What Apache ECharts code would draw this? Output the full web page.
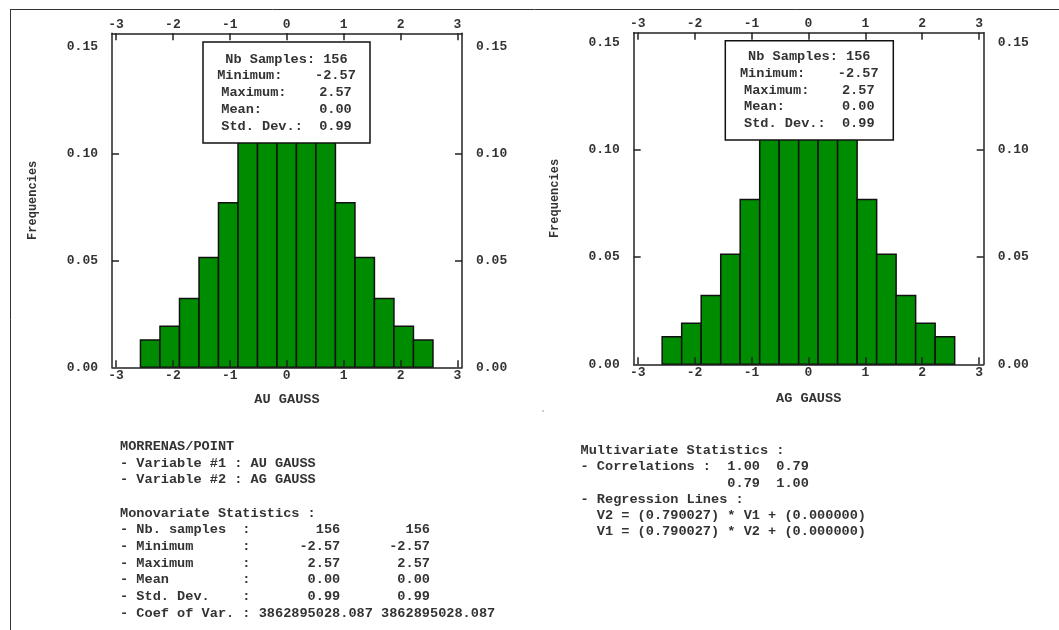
<!DOCTYPE html>
<html>
<head>
<meta charset="utf-8">
<script src="https://cdn.jsdelivr.net/npm/echarts@6/dist/echarts.min.js"></script>
<style>
	html,body{margin:0;padding:0;background:#fff;}
	#main{width:1059px;height:630px;}
</style>
</head>
<body>
<div id="main"></div>
<script>
	//直方图分组边界
	var binEdges = [-2.57, -2.227, -1.884, -1.541, -1.199, -0.856, -0.513, -0.171, 0.171, 0.513, 0.856, 1.199, 1.541, 1.884, 2.227, 2.57];
	var auFreq = [0.0128, 0.0192, 0.0321, 0.0513, 0.0769, 0.109, 0.128, 0.141, 0.128, 0.109, 0.0769, 0.0513, 0.0321, 0.0192, 0.0128];
	var agFreq = [0.0128, 0.0192, 0.0321, 0.0513, 0.0769, 0.109, 0.128, 0.141, 0.128, 0.109, 0.0769, 0.0513, 0.0321, 0.0192, 0.0128];
	var xTicks = [-3, -2, -1, 0, 1, 2, 3];
	var yLabels = [0, 0.05, 0.10, 0.15];
	var yTicks = [0.05, 0.10];
	var boxLines = ['Nb Samples: 156', 'Minimum:    -2.57', 'Maximum:    2.57', 'Mean:       0.00', 'Std. Dev.:  0.99'];
	var monoLines = [
		'MORRENAS/POINT',
		'- Variable #1 : AU GAUSS',
		'- Variable #2 : AG GAUSS',
		'',
		'Monovariate Statistics :',
		'- Nb. samples  :        156        156',
		'- Minimum      :      -2.57      -2.57',
		'- Maximum      :       2.57       2.57',
		'- Mean         :       0.00       0.00',
		'- Std. Dev.    :       0.99       0.99',
		'- Coef of Var. : 3862895028.087 3862895028.087'
	];
	var multiLines = [
		'Multivariate Statistics :',
		'- Correlations :  1.00  0.79',
		'                  0.79  1.00',
		'- Regression Lines :',
		'  V2 = (0.790027) * V1 + (0.000000)',
		'  V1 = (0.790027) * V2 + (0.000000)'
	];

	var FONT = "'Liberation Mono', monospace";
	var INK = '#333';
	var WEIGHT = 'bold';

	function histData(freq){
		var d = [];
		for(var i=0;i<freq.length;i++){
			d.push([binEdges[i], binEdges[i+1], freq[i]]);
		}
		return d;
	}
	function renderBar(params, api){
		var p0 = api.coord([api.value(0), 0]);
		var p1 = api.coord([api.value(1), api.value(2)]);
		return {
			type: 'rect',
			shape: {x: p0[0], y: p1[1], width: p1[0]-p0[0], height: p0[1]-p1[1]},
			style: {fill: '#008c00', stroke: '#111', lineWidth: 1.5}
		};
	}
	var lineStyle = {color: '#222', width: 1.5};
	function xAxis(grid, pos, name, gap){
		return {
			type: 'value', gridIndex: grid, position: pos, min: -3.07, max: 3.08, z: 3,
			name: name, nameLocation: 'middle', nameGap: gap,
			nameTextStyle: {fontFamily: FONT, fontSize: 13.6, fontWeight: WEIGHT, color: INK},
			axisLine: {show: true, onZero: false, lineStyle: lineStyle},
			axisTick: {show: true, inside: true, length: 7, customValues: xTicks, lineStyle: lineStyle},
			axisLabel: {show: true, customValues: xTicks, margin: 2, fontFamily: FONT, fontSize: 13, fontWeight: WEIGHT, color: INK},
			splitLine: {show: false}
		};
	}
	function yAxis(grid, pos, max, name){
		return {
			type: 'value', gridIndex: grid, position: pos, min: 0, max: max, z: 3,
			name: name, nameLocation: 'middle', nameGap: 73,
			nameTextStyle: {fontFamily: FONT, fontSize: 12, fontWeight: WEIGHT, color: INK},
			axisLine: {show: true, onZero: false, lineStyle: lineStyle},
			axisTick: {show: true, inside: true, length: 7, customValues: yTicks, lineStyle: lineStyle},
			axisLabel: {show: true, customValues: yLabels, margin: 14, fontFamily: FONT, fontSize: 13, fontWeight: WEIGHT, color: INK,
				formatter: function(v){ return v.toFixed(2); }},
			splitLine: {show: false}
		};
	}
	function statBox(x, y, w, h, lineY){
		return [{
			type: 'rect', z: 100,
			shape: {x: x, y: y, width: w, height: h},
			style: {fill: '#fff', stroke: '#111', lineWidth: 1.5}
		},{
			type: 'text', z: 101,
			style: {text: boxLines.join('\n'), x: x + w/2, y: lineY, textAlign: 'center', textVerticalAlign: 'top',
				lineHeight: 16.7, fontFamily: FONT, fontSize: 13.6, fontWeight: WEIGHT, fill: INK}
		}];
	}

	var option = {
		animation: false,
		grid: [
			{left: 112, top: 33.3, width: 350, height: 334},
			{left: 633.7, top: 32.7, width: 350, height: 331.6}
		],
		xAxis: [
			xAxis(0, 'bottom', 'AU GAUSS', 25),
			xAxis(0, 'top', '', 0),
			xAxis(1, 'bottom', 'AG GAUSS', 27),
			xAxis(1, 'top', '', 0)
		],
		yAxis: [
			yAxis(0, 'left', 0.1561, 'Frequencies'),
			yAxis(0, 'right', 0.1561, ''),
			yAxis(1, 'left', 0.1547, 'Frequencies'),
			yAxis(1, 'right', 0.1547, '')
		],
		series: [
			{type: 'custom', xAxisIndex: 0, yAxisIndex: 0, renderItem: renderBar, encode: {x: [0,1], y: 2}, data: histData(auFreq)},
			{type: 'custom', xAxisIndex: 2, yAxisIndex: 2, renderItem: renderBar, encode: {x: [0,1], y: 2}, data: histData(agFreq)}
		],
		graphic: [
			{type: 'line', shape: {x1: 10, y1: 9.5, x2: 1059, y2: 9.5}, style: {stroke: '#333', lineWidth: 1}},
			{type: 'line', shape: {x1: 10.5, y1: 9.5, x2: 10.5, y2: 630}, style: {stroke: '#333', lineWidth: 1}},
			{type: 'rect', shape: {x: 542, y: 410.5, width: 2, height: 1}, style: {fill: '#999'}},
			{type: 'text', style: {text: monoLines.join('\n'), x: 120, y: 438.4, textVerticalAlign: 'top',
				lineHeight: 16.66, fontFamily: FONT, fontSize: 13.6, fontWeight: WEIGHT, fill: INK}},
			{type: 'text', style: {text: multiLines.join('\n'), x: 580.5, y: 442.6, textVerticalAlign: 'top',
				lineHeight: 16.2, fontFamily: FONT, fontSize: 13.6, fontWeight: WEIGHT, fill: INK}}
		].concat(statBox(203, 42, 167, 101, 51)).concat(statBox(725.3, 40.7, 168, 99.3, 48.4))
	};
	var myChart = echarts.init(document.getElementById('main'));
	myChart.setOption(option);
	window.addEventListener('resize', function(){ myChart.resize(); });
</script>
</body>
</html>
